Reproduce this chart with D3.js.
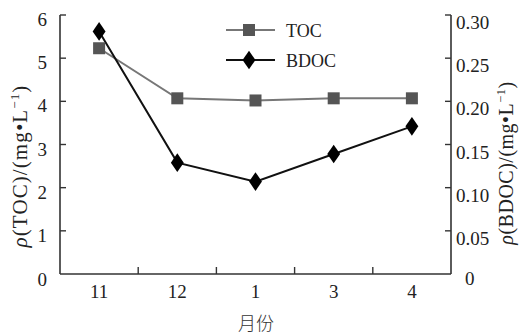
<!DOCTYPE html>
<html>
<head>
<meta charset="utf-8">
<script src="https://cdn.jsdelivr.net/npm/d3@7"></script>
<style>
  html, body { margin: 0; padding: 0; background: #fff; }
</style>
</head>
<body>
<svg id="chart" width="519" height="334"></svg>
<script>
// Monthly TOC and BDOC concentrations
const months = ["11", "12", "1", "3", "4"];
const tocValues = [5.23, 4.07, 4.02, 4.07, 4.07];
const bdocValues = [0.281, 0.129, 0.107, 0.139, 0.171];
const leftTicks = [0, 1, 2, 3, 4, 5, 6];
const rightTicks = [0, 0.05, 0.10, 0.15, 0.20, 0.25, 0.30];

const SERIF = "'Liberation Serif', 'Times New Roman', serif";
const svg = d3.select("#chart").attr("font-family", SERIF);
const plotL = 60, plotR = 451, plotT = 15, plotB = 274;

const x = d3.scaleBand().domain(months).range([plotL, plotR]);
const yL = d3.scaleLinear().domain([0, 6]).range([plotB, plotT]);
const yR = d3.scaleLinear().domain([0, 0.30]).range([plotB, plotT]);

const axisColor = "#333";
const tocLine = "#777";
const tocMark = "#555";

// frame lines
svg.append("line").attr("x1", plotL).attr("x2", plotL).attr("y1", plotT).attr("y2", plotB)
  .attr("stroke", axisColor).attr("stroke-width", 1.6);
svg.append("line").attr("x1", plotR).attr("x2", plotR).attr("y1", plotT).attr("y2", plotB)
  .attr("stroke", axisColor).attr("stroke-width", 1.6);
svg.append("line").attr("x1", plotL).attr("x2", plotR).attr("y1", plotB).attr("y2", plotB)
  .attr("stroke", axisColor).attr("stroke-width", 1.6);

// left ticks (inward)
const gL = svg.append("g");
leftTicks.forEach(v => {
  if (v > 0) gL.append("line").attr("x1", plotL).attr("x2", plotL + 6)
    .attr("y1", yL(v)).attr("y2", yL(v)).attr("stroke", axisColor).attr("stroke-width", 1.4);
  gL.append("text").attr("x", plotL - 13).attr("y", yL(v) + (v === 0 ? 12 : 11))
    .attr("text-anchor", "end").attr("font-size", 19).attr("fill", "#222")
    .attr("font-family", SERIF)
    .text(d3.format("d")(v));
});

// right ticks (inward)
const gR = svg.append("g");
rightTicks.forEach(v => {
  if (v > 0) gR.append("line").attr("x1", plotR - 6).attr("x2", plotR)
    .attr("y1", yR(v)).attr("y2", yR(v)).attr("stroke", axisColor).attr("stroke-width", 1.4);
  gR.append("text").attr("x", plotR + 5 + (v === 0 ? 9 : 0)).attr("y", yR(v) + (v === 0 ? 11 : 14))
    .attr("text-anchor", "start").attr("font-size", 19).attr("fill", "#222")
    .attr("font-family", SERIF)
    .text(v === 0 ? "0" : d3.format(".2f")(v));
});

// x ticks between categories (inward)
months.slice(1).forEach(m => {
  const xv = x(m);
  svg.append("line").attr("x1", xv).attr("x2", xv).attr("y1", plotB - 7).attr("y2", plotB)
    .attr("stroke", axisColor).attr("stroke-width", 1.4);
});
months.forEach(m => {
  svg.append("text").attr("x", x(m) + x.bandwidth() / 2).attr("y", 298)
    .attr("text-anchor", "middle").attr("font-size", 19).attr("fill", "#222")
    .attr("font-family", SERIF).text(m);
});

// axis titles
function axisTitle(tx, ty, label, size, spacing) {
  const t = svg.append("text").attr("transform", `translate(${tx},${ty}) rotate(-90)`)
    .attr("text-anchor", "middle").attr("font-size", size).attr("fill", "#222")
    .attr("font-family", SERIF).attr("letter-spacing", spacing);
  t.append("tspan").attr("font-style", "italic").text("ρ");
  t.append("tspan").text(`(${label})/(mg\u2022L`);
  t.append("tspan").attr("font-size", size * 0.62).attr("dy", -8).text("\u22121");
  t.append("tspan").attr("dy", 8).text(")");
}
axisTitle(27, 166, "TOC", 21, 1.1);
axisTitle(513, 163, "BDOC", 20, 0.5);

svg.append("text").attr("x", 256).attr("y", 330).attr("text-anchor", "middle")
  .attr("font-size", 18).attr("fill", "#333")
  .attr("font-family", "'Noto Sans CJK SC', serif").attr("font-weight", 300).text("月份");

// series
const cx = m => x(m) + x.bandwidth() / 2;
const lineL = d3.line().x((d, i) => cx(months[i])).y(d => yL(d));
const lineR = d3.line().x((d, i) => cx(months[i])).y(d => yR(d));

svg.append("path").attr("d", lineL(tocValues)).attr("fill", "none")
  .attr("stroke", tocLine).attr("stroke-width", 2);
svg.append("path").attr("d", lineR(bdocValues)).attr("fill", "none")
  .attr("stroke", "#111").attr("stroke-width", 2);

const sq = 12;
svg.selectAll(".toc").data(tocValues).join("rect")
  .attr("x", (d, i) => cx(months[i]) - sq / 2).attr("y", d => yL(d) - sq / 2)
  .attr("width", sq).attr("height", sq).attr("fill", tocMark);

const diamond = d3.symbol().type(d3.symbolDiamond).size(100);
svg.selectAll(".bdoc").data(bdocValues).join("path")
  .attr("d", diamond).attr("transform", (d, i) => `translate(${cx(months[i])},${yR(d)}) scale(1.2,1)`)
  .attr("fill", "#000");

// legend
const lg = svg.append("g");
lg.append("line").attr("x1", 226).attr("x2", 275).attr("y1", 30).attr("y2", 30)
  .attr("stroke", tocLine).attr("stroke-width", 2);
lg.append("rect").attr("x", 249 - sq / 2).attr("y", 30 - sq / 2).attr("width", sq).attr("height", sq)
  .attr("fill", tocMark);
lg.append("text").attr("x", 286).attr("y", 37).attr("font-size", 18).attr("fill", "#222")
  .attr("font-family", SERIF).text("TOC");
lg.append("line").attr("x1", 226).attr("x2", 275).attr("y1", 60).attr("y2", 60)
  .attr("stroke", "#111").attr("stroke-width", 2);
lg.append("path").attr("d", diamond).attr("transform", "translate(249,60) scale(1.2,1)").attr("fill", "#000");
lg.append("text").attr("x", 286).attr("y", 67).attr("font-size", 18).attr("fill", "#222")
  .attr("font-family", SERIF).text("BDOC");
</script>
</body>
</html>
